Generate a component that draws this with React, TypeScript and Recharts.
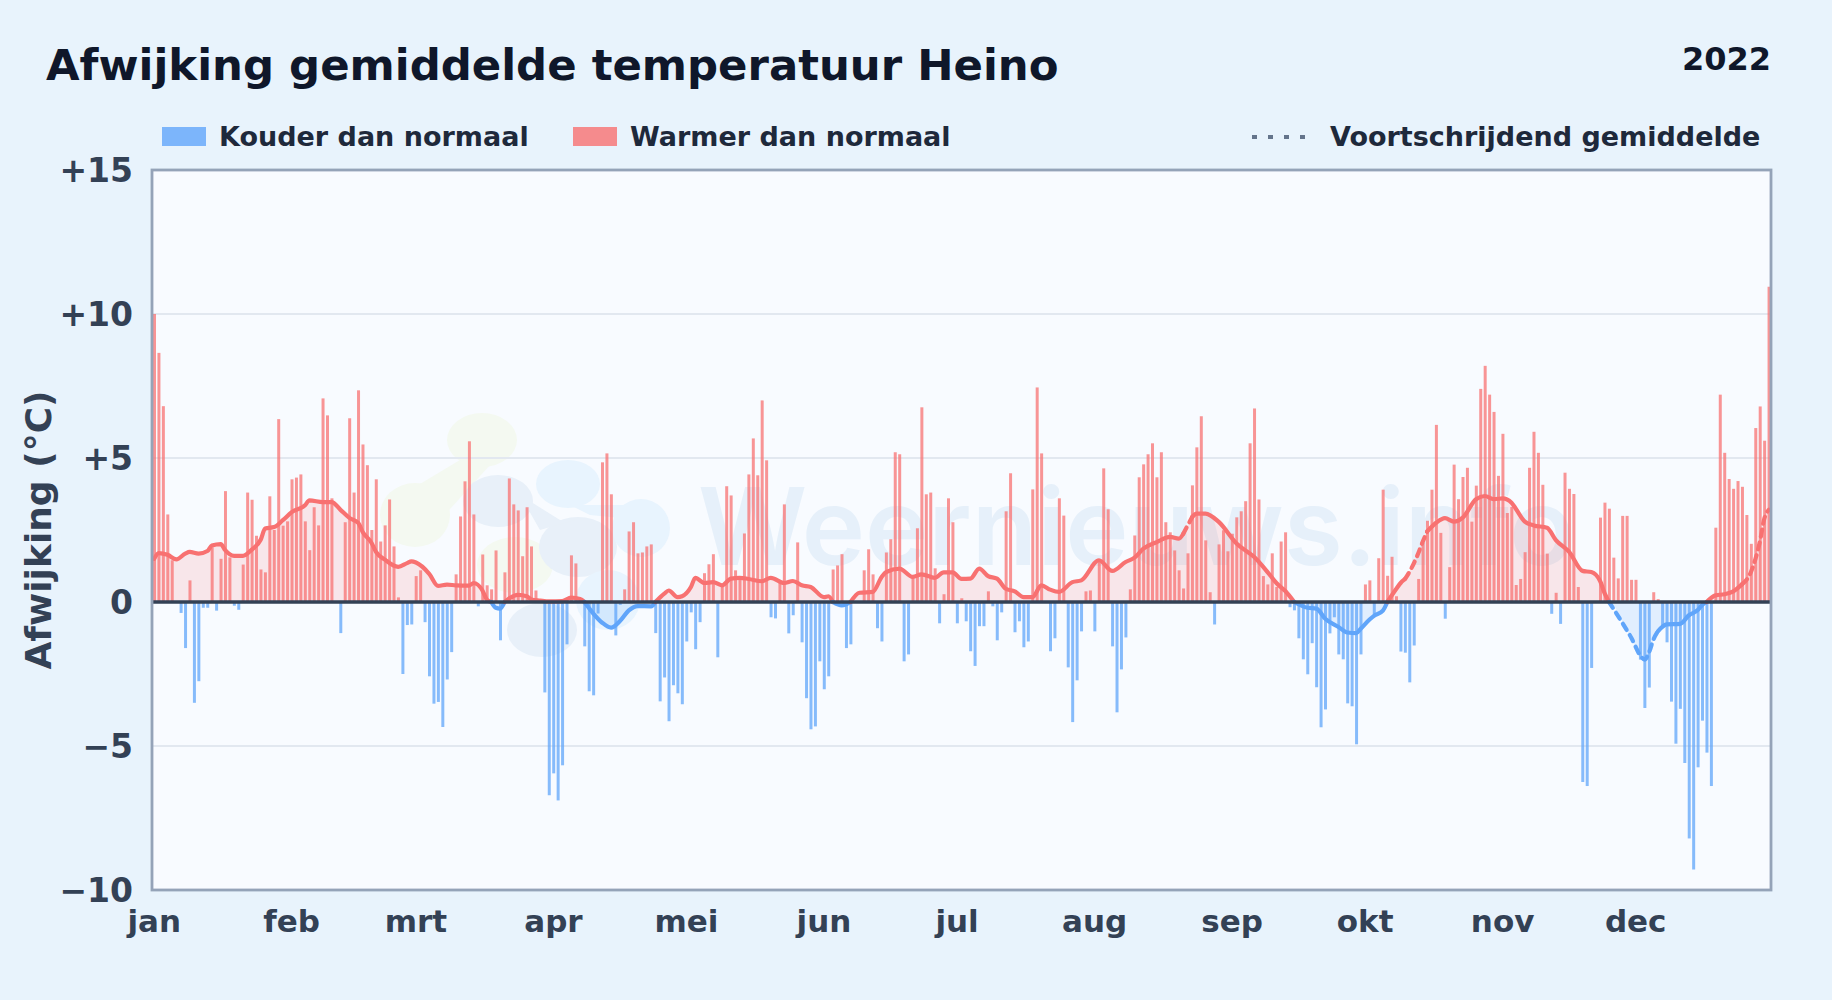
import { Area, Bar, CartesianGrid, ComposedChart, Line, ReferenceLine, XAxis, YAxis } from "recharts";

const deviations = [
  10.0, 8.65, 6.8, 3.04, 1.45, 0, -0.38, -1.6, 0.75, -3.5,
  -2.75, -0.2, -0.2, 1.9, -0.3, 1.5, 3.85, 1.55, -0.13, -0.27,
  1.3, 3.8, 3.55, 2.3, 1.13, 1.03, 3.67, 2.5, 6.35, 2.65,
  2.8, 4.26, 4.32, 4.43, 2.8, 1.8, 3.29, 2.66, 7.07, 6.48,
  3.6, 0, -1.08, 2.77, 6.38, 3.8, 7.35, 5.47, 4.75, 2.5,
  4.26, 2.1, 2.66, 3.56, 1.93, 0.16, -2.5, -0.8, -0.78, 0.9,
  1.1, -0.7, -2.58, -3.53, -3.47, -4.34, -2.69, -1.74, 0.96, 2.97,
  4.19, 5.58, 3.04, -0.15, 1.65, 0.58, 0.44, 1.79, -1.33, 1.03,
  4.29, 3.39, 3.18, 1.59, 3.29, 1.93, 0.4, 0, -3.14, -6.71,
  -5.95, -6.89, -5.67, -1.47, 1.62, 1.34, 0, -1.54, -3.1, -3.24,
  -0.4, 4.85, 5.16, 3.74, -1.16, -0.1, 0.44, 2.45, 2.77, 1.69,
  1.72, 1.93, 2.0, -1.08, -3.45, -2.62, -4.14, -2.89, -3.17, -3.55,
  -1.37, -0.36, -1.64, -0.7, 1.0, 1.31, 1.66, -1.92, 0.61, 4.02,
  3.7, 1.1, 0.87, 2.38, 4.43, 5.68, 4.4, 7.0, 4.92, -0.53,
  -0.57, 0.7, 3.39, -1.09, -0.46, 2.07, -1.4, -3.34, -4.42, -4.32,
  -2.06, -3.03, -2.58, 1.13, 1.27, 1.66, -1.6, -1.47, 0, 0,
  1.1, 1.83, 0.96, -0.91, -1.37, 1.72, 2.18, 5.2, 5.13, -2.06,
  -1.82, 0.87, 2.56, 6.76, 3.74, 3.8, 1.17, -0.74, 0.27, 3.6,
  2.77, -0.74, 0.13, -0.67, -1.71, -2.22, -0.84, -0.84, 0.37, -0.15,
  -1.33, -0.36, 3.15, 4.47, -1.05, -0.67, -1.57, -1.37, 3.91, 7.45,
  5.16, 0, -1.71, -1.26, 3.6, 3.0, -2.27, -4.17, -2.72, -1.02,
  0.37, 0.4, -1.02, 1.45, 4.64, 3.22, -1.54, -3.83, -2.34, -1.23,
  0.44, 2.31, 4.33, 4.78, 5.13, 5.51, 4.33, 5.2, 2.77, 2.42,
  1.79, 1.1, 0.47, 1.69, 4.05, 5.37, 6.45, 2.14, 0.34, -0.78,
  2.0, 2.49, 1.76, 2.37, 2.94, 3.15, 3.5, 5.51, 6.72, 3.56,
  0.9, 0.61, 1.69, 0.52, 2.1, 2.42, -0.18, -0.29, -1.26, -1.99,
  -2.51, -1.43, -2.96, -4.35, -3.73, -1.09, -0.53, -1.82, -1.99, -3.52,
  -3.62, -4.94, -1.82, 0.61, 0.75, -0.43, 1.52, 3.9, 0.91, 1.57,
  0.2, -1.72, -1.76, -2.79, -1.51, 0.8, 2.06, 2.82, 3.9, 6.15,
  2.4, -0.58, 1.21, 4.77, 3.57, 4.34, 4.66, 2.79, 4.04, 7.4,
  8.2, 7.2, 6.6, 4.38, 5.84, 3.09, 3.3, 0.59, 0.8, 1.73,
  4.66, 5.91, 5.18, 4.07, 1.68, -0.41, 0.32, -0.76, 4.49, 3.93,
  3.75, 0.52, -6.25, -6.39, -2.29, 0, 2.93, 3.45, 3.24, 1.54,
  0.82, 2.99, 2.99, 0.77, 0.77, -2.0, -3.68, -2.97, 0.34, 0.1,
  -0.9, -1.4, -3.46, -4.92, -3.71, -5.59, -8.21, -9.29, -5.74, -4.12,
  -5.23, -6.39, 2.58, 7.2, 5.18, 4.27, 3.93, 4.2, 4.0, 3.02,
  2.02, 6.04, 6.79, 5.6, 10.95,
];

// moving average as [day, value]
const movingAverage = [
  [0, 1.5], [1, 1.7], [3, 1.64], [5, 1.48], [7, 1.68], [8, 1.74], [10, 1.68], [12, 1.77], [13, 1.96], [15, 2.01],
  [16, 1.8], [18, 1.6], [20, 1.6], [22, 1.82], [24, 2.16], [25, 2.55], [27, 2.6], [29, 2.84], [31, 3.12], [34, 3.36],
  [35, 3.53], [38, 3.47], [40, 3.47], [42, 3.2], [44, 2.92], [46, 2.75], [47, 2.43], [49, 2.05], [50, 1.74], [52, 1.47],
  [55, 1.22], [57, 1.35], [58, 1.41], [59, 1.37], [62, 0.98], [64, 0.56], [66, 0.6], [68, 0.58], [71, 0.57], [72, 0.66],
  [74, 0.4], [75, 0.08], [76, 0], [77, -0.2], [78, -0.23], [79, 0], [80, 0.12], [82, 0.25], [84, 0.2], [85, 0.09],
  [87, 0.05], [89, 0.02], [92, 0.03], [94, 0.15], [96, 0.1], [97, 0], [99, -0.4], [101, -0.72], [103, -0.89], [105, -0.66],
  [107, -0.29], [109, -0.14], [112, -0.15], [113, 0], [115, 0.29], [116, 0.4], [118, 0.17], [119, 0.2], [121, 0.52], [122, 0.84],
  [124, 0.66], [126, 0.69], [128, 0.58], [130, 0.81], [132, 0.84], [134, 0.8], [137, 0.72], [139, 0.84], [142, 0.66], [144, 0.73],
  [146, 0.58], [148, 0.52], [151, 0.17], [152, 0.2], [153, 0], [155, -0.12], [156, -0.08], [157, 0], [159, 0.32], [162, 0.35],
  [164, 0.87], [165, 1.04], [168, 1.16], [171, 0.87], [173, 0.96], [176, 0.84], [178, 1.03], [180, 1.03], [182, 0.8], [184, 0.81],
  [186, 1.16], [188, 0.9], [190, 0.81], [192, 0.46], [194, 0.37], [196, 0.17], [198, 0.17], [200, 0.58], [202, 0.43], [204, 0.35],
  [207, 0.69], [209, 0.75], [213, 1.45], [216, 1.08], [219, 1.39], [221, 1.54], [223, 1.85], [226, 2.08], [229, 2.26], [231, 2.2],
  [232, 2.37], [234, 2.95], [235, 3.07], [237, 3.07], [240, 2.78], [244, 2.03], [248, 1.56], [251, 1.04], [253, 0.66], [255, 0.38],
  [257, 0], [260, -0.2], [262, -0.23], [264, -0.58], [267, -0.87], [269, -1.06], [271, -1.08], [272, -0.93], [274, -0.61], [275, -0.48],
  [277, -0.3], [278, 0], [280, 0.45], [281, 0.66], [282, 0.8], [283, 1.05], [285, 1.7], [286, 2.1], [287, 2.45], [289, 2.75],
  [291, 2.91], [293, 2.79], [295, 2.93], [298, 3.57], [300, 3.68], [302, 3.57], [304, 3.6], [306, 3.45], [307, 3.23], [309, 2.79],
  [311, 2.66], [314, 2.58], [316, 2.15], [319, 1.74], [322, 1.08], [324, 1.04], [326, 0.72], [327, 0.3], [328, 0], [332, -0.98],
  [333, -1.24], [335, -1.85], [336, -2.0], [337, -1.75], [338, -1.3], [339, -1.02], [341, -0.78], [344, -0.76], [346, -0.46], [348, -0.28],
  [349, -0.1], [350, 0], [352, 0.23], [354, 0.27], [356, 0.37], [358, 0.62], [360, 1.05], [361, 1.5], [362, 2.1], [363, 2.9], [364, 3.2],
];

// stretches of the curve: first day, last day, below zero, drawn broken
const curveParts = [
  [0, 76, false, false],
  [76, 79, true, false],
  [79, 97, false, false],
  [97, 113, true, false],
  [113, 153, false, false],
  [153, 157, true, false],
  [157, 232, false, false],
  [232, 234, false, true],
  [234, 257, false, false],
  [257, 278, true, false],
  [278, 282, false, false],
  [282, 287, false, true],
  [287, 328, false, false],
  [328, 339, true, true],
  [339, 350, true, false],
  [350, 358, false, false],
  [358, 364, false, true],
];

const monthStarts = [0, 31, 59, 90, 120, 151, 181, 212, 243, 273, 304, 334];
const monthLabels = ["jan", "feb", "mrt", "apr", "mei", "jun", "jul", "aug", "sep", "okt", "nov", "dec"];
const yTicks = [-10, -5, 0, 5, 10, 15];

const RED = "#f87171";
const BLUE = "#60a5fa";

const rows = deviations.map((value, day) => {
  const row: Record<string, number> = { day };
  if (value > 0) row.warm = value;
  if (value < 0) row.cold = value;
  return row;
});
movingAverage.forEach(([day, value]) => {
  rows[day].maWarm = Math.max(value, 0);
  rows[day].maCold = Math.min(value, 0);
  curveParts.forEach(([from, to], i) => {
    if (day >= (from as number) && day <= (to as number)) rows[day][`part${i}`] = value;
  });
});

const formatY = (v: number) => (v > 0 ? `+${v}` : v < 0 ? `\u2212${-v}` : "0");
const formatMonth = (d: number) => monthLabels[monthStarts.indexOf(d)];

const FONT = "'DejaVu Sans', sans-serif";

export default function App() {
  return (
    <div style={{ position: "absolute", left: 0, top: 0, width: 1832, height: 1000, background: "#e8f3fc", overflow: "hidden" }}>
      <svg width={1832} height={1000} style={{ position: "absolute", left: 0, top: 0 }}>
        <rect x={152} y={170} width={1619} height={720} fill="#f8fbff" />
        {/* faint logo behind the plot */}
        <g fill="#f4f9f1">
          <ellipse cx={482} cy={440} rx={35} ry={27} />
          <ellipse cx={415} cy={515} rx={35} ry={32} />
          <path d="M460 460 L490 465 L440 520 L410 490 Z" />
          <ellipse cx={515} cy={565} rx={38} ry={28} />
        </g>
        <g fill="#e8f0f9">
          <ellipse cx={498} cy={501} rx={35} ry={26} />
          <ellipse cx={578} cy={547} rx={39} ry={30} />
          <path d="M520 495 L560 520 L575 520 L540 530 Z" />
          <ellipse cx={542} cy={630} rx={35} ry={27} />
        </g>
        <g fill="#e8f4fe">
          <ellipse cx={568} cy={484} rx={32} ry={24} />
          <ellipse cx={641} cy={528} rx={29} ry={29} />
          <path d="M570 505 L640 505 L640 520 L590 515 Z" />
          <ellipse cx={608} cy={600} rx={32} ry={30} />
        </g>
        <text x={698} y={565} fontFamily="Inter, sans-serif" fontWeight={600} fontSize={107} fill="#e6f0fa">
          Weernieuws.info
        </text>
      </svg>
      <ComposedChart
        width={1832}
        height={1000}
        data={rows}
        margin={{ top: 170, right: 61, bottom: 80, left: 12 }}
        barCategoryGap={0}
        style={{ position: "absolute", left: 0, top: 0 }}
      >
        <CartesianGrid vertical={false} stroke="#e2e8f0" strokeWidth={2} />
        <XAxis
          dataKey="day"
          type="category"
          height={30}
          ticks={monthStarts}
          interval={0}
          tickFormatter={formatMonth}
          axisLine={false}
          tickLine={false}
          tickMargin={13.5}
          tick={{ fontSize: 31, fontWeight: 700, fontFamily: FONT, fill: "#334155" }}
        />
        <YAxis
          width={140}
          domain={[-10, 15]}
          ticks={yTicks}
          tickFormatter={formatY}
          axisLine={false}
          tickLine={false}
          tickMargin={13}
          tick={{ fontSize: 33, fontWeight: 700, fontFamily: FONT, fill: "#334155" }}
          label={{
            value: "Afwijking (°C)",
            angle: -90,
            position: "insideLeft",
            offset: 26,
            style: { fontSize: 36, fontWeight: 700, fontFamily: FONT, fill: "#334155", textAnchor: "middle" },
          }}
        />
        <Area dataKey="maWarm" type="monotone" connectNulls stroke="none" fill={RED} fillOpacity={0.15} isAnimationActive={false} />
        <Area dataKey="maCold" type="monotone" connectNulls stroke="none" fill={BLUE} fillOpacity={0.15} isAnimationActive={false} />
        <Bar dataKey="warm" stackId="day" barSize={3} fill={RED} fillOpacity={0.75} isAnimationActive={false} />
        <Bar dataKey="cold" stackId="day" barSize={3} fill={BLUE} fillOpacity={0.75} isAnimationActive={false} />
        {curveParts.map(([, , below, broken], i) => (
          <Line
            key={i}
            dataKey={`part${i}`}
            type="monotone"
            connectNulls
            dot={false}
            stroke={below ? BLUE : RED}
            strokeWidth={4.2}
            strokeLinecap="round"
            strokeDasharray={broken ? "7 6" : undefined}
            isAnimationActive={false}
          />
        ))}
        <ReferenceLine y={0} stroke="#334155" strokeWidth={3.5} />
      </ComposedChart>
      <svg width={1832} height={1000} style={{ position: "absolute", left: 0, top: 0, pointerEvents: "none" }}>
        <rect x={152} y={170} width={1619} height={720} fill="none" stroke="#94a3b8" strokeWidth={2.8} />
        <g fontFamily={FONT} fontWeight={700}>
          <text x={46} y={80} fontSize={43.4} fill="#0f172a">Afwijking gemiddelde temperatuur Heino</text>
          <text x={1771} y={70} fontSize={32} textAnchor="end" fill="#0f172a">2022</text>
          <rect x={162} y={127} width={44} height={19} fill="#60a5fa" fillOpacity={0.8} />
          <text x={219} y={146} fontSize={27} fill="#1e293b">Kouder dan normaal</text>
          <rect x={573} y={127} width={44} height={19} fill="#f87171" fillOpacity={0.8} />
          <text x={630} y={146} fontSize={27} fill="#1e293b">Warmer dan normaal</text>
          <line x1={1252} y1={137} x2={1310} y2={137} stroke="#64748b" strokeWidth={4} strokeDasharray="5 11" />
          <text x={1330} y={146} fontSize={27} fill="#1e293b">Voortschrijdend gemiddelde</text>
        </g>
      </svg>
    </div>
  );
}
